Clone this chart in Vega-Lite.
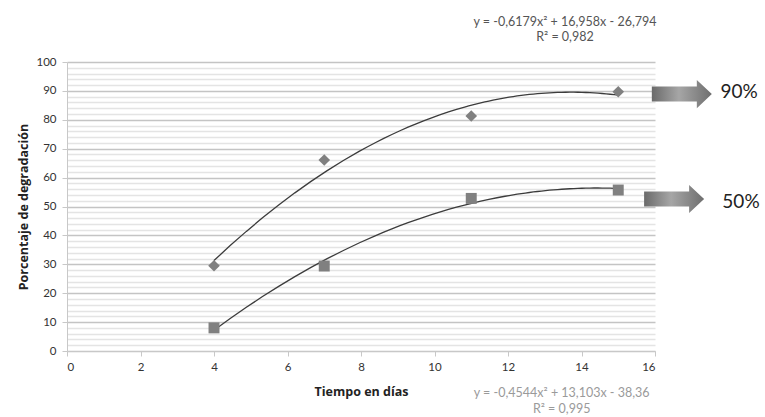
{
  "$schema": "https://vega.github.io/schema/vega-lite/v6.json",
  "width": 588,
  "height": 289,
  "autosize": "none",
  "padding": {"left": 67, "top": 62, "right": 110, "bottom": 66},
  "background": "white",
  "config": {
    "view": {"stroke": null},
    "font": "Lato",
    "axis": {"labelFont": "Lato", "titleFont": "Open Sans", "labelColor": "#333333", "titleColor": "#222222", "labelFontSize": 11.5, "titleFontSize": 12.5, "titleFontWeight": "bold", "domainColor": "#c8c8c8", "tickColor": "#c8c8c8"}
  },
  "datasets": {
    "puntos": [
      {"dias": 4, "porcentaje": 29.5, "serie": "90%"},
      {"dias": 7, "porcentaje": 66.1, "serie": "90%"},
      {"dias": 11, "porcentaje": 81.3, "serie": "90%"},
      {"dias": 15, "porcentaje": 89.7, "serie": "90%"},
      {"dias": 4, "porcentaje": 8.0, "serie": "50%"},
      {"dias": 7, "porcentaje": 29.4, "serie": "50%"},
      {"dias": 11, "porcentaje": 52.8, "serie": "50%"},
      {"dias": 15, "porcentaje": 55.7, "serie": "50%"}
    ],
    "ecuacion_sup": [
      {"dias": 13.55, "porcentaje": 113.9, "texto": "y = -0,6179x² + 16,958x - 26,794"},
      {"dias": 13.55, "porcentaje": 108.5, "texto": "R² = 0,982"}
    ],
    "ecuacion_inf": [
      {"dias": 13.46, "porcentaje": -14.4, "texto": "y = -0,4544x² + 13,103x - 38,36"},
      {"dias": 13.46, "porcentaje": -20.2, "texto": "R² = 0,995"}
    ],
    "flechas": [
      {"dias": 16.73, "porcentaje": 88.9, "etiqueta": "90%"},
      {"dias": 16.52, "porcentaje": 52.6, "etiqueta": "50%"}
    ],
    "etiquetas": [
      {"dias": 18.29, "porcentaje": 89.5, "etiqueta": "90%"},
      {"dias": 18.34, "porcentaje": 51.6, "etiqueta": "50%"}
    ]
  },
  "layer": [
    {
      "data": {"name": "puntos"},
      "transform": [{"regression": "porcentaje", "on": "dias", "groupby": ["serie"], "method": "poly", "order": 2, "extent": [4, 15]}],
      "mark": {"type": "line", "color": "#3c3c3c", "strokeWidth": 1.3},
      "encoding": {
        "x": {"field": "dias", "type": "quantitative"},
        "y": {"field": "porcentaje", "type": "quantitative"},
        "detail": {"field": "serie"}
      }
    },
    {
      "data": {"name": "puntos"},
      "mark": {"type": "point", "filled": true, "opacity": 1},
      "encoding": {
        "x": {
          "field": "dias", "type": "quantitative",
          "scale": {"domain": [0, 16], "nice": false},
          "axis": {"title": "Tiempo en días", "values": [0, 2, 4, 6, 8, 10, 12, 14, 16], "tickCount": 9, "grid": false, "tickSize": 5, "labelPadding": 5, "titlePadding": 13}
        },
        "y": {
          "field": "porcentaje", "type": "quantitative",
          "scale": {"domain": [0, 100], "nice": false},
          "axis": {
            "title": "Porcentaje de degradación",
            "values": [0,2,4,6,8,10,12,14,16,18,20,22,24,26,28,30,32,34,36,38,40,42,44,46,48,50,52,54,56,58,60,62,64,66,68,70,72,74,76,78,80,82,84,86,88,90,92,94,96,98,100],
            "tickCount": 51,
            "labelExpr": "datum.value % 10 === 0 ? datum.label : ''",
            "labelOverlap": false,
            "grid": true,
            "gridWidth": 1.5,
            "gridColor": {"condition": {"test": "datum.value % 10 === 0", "value": "#c4c4c4"}, "value": "#e4e4e4"},
            "tickOpacity": {"condition": {"test": "datum.value % 10 === 0", "value": 1}, "value": 0},
            "tickSize": 5,
            "labelPadding": 6,
            "titlePadding": 5
          }
        },
        "shape": {"field": "serie", "type": "nominal", "scale": {"domain": ["90%", "50%"], "range": ["diamond", "square"]}, "legend": null},
        "size": {"field": "serie", "type": "nominal", "scale": {"domain": ["90%", "50%"], "range": [135, 120]}, "legend": null},
        "color": {"value": "#808080"}
      }
    },
    {
      "data": {"name": "ecuacion_sup"},
      "mark": {"type": "text", "color": "#555555", "fontSize": 12.5, "font": "Lato", "baseline": "middle", "align": "center"},
      "encoding": {
        "x": {"field": "dias", "type": "quantitative"},
        "y": {"field": "porcentaje", "type": "quantitative"},
        "text": {"field": "texto"}
      }
    },
    {
      "data": {"name": "ecuacion_inf"},
      "mark": {"type": "text", "color": "#9a9a9a", "fontSize": 12.5, "font": "Lato", "baseline": "middle", "align": "center"},
      "encoding": {
        "x": {"field": "dias", "type": "quantitative"},
        "y": {"field": "porcentaje", "type": "quantitative"},
        "text": {"field": "texto"}
      }
    },
    {
      "data": {"name": "flechas"},
      "mark": {
        "type": "point", "filled": true, "opacity": 1, "size": 3600,
        "shape": "M-1,-0.25 L0.5,-0.25 L0.5,-0.47 L1,0 L0.5,0.47 L0.5,0.25 L-1,0.25 Z",
        "color": {"gradient": "linear", "x1": 0, "y1": 0, "x2": 1, "y2": 0, "stops": [{"offset": 0, "color": "#6a6a6a"}, {"offset": 0.45, "color": "#a6a6a6"}, {"offset": 1, "color": "#6e6e6e"}]}
      },
      "encoding": {
        "x": {"field": "dias", "type": "quantitative"},
        "y": {"field": "porcentaje", "type": "quantitative"}
      }
    },
    {
      "data": {"name": "etiquetas"},
      "mark": {"type": "text", "color": "#222222", "fontSize": 19, "font": "Lato", "baseline": "middle", "align": "center"},
      "encoding": {
        "x": {"field": "dias", "type": "quantitative"},
        "y": {"field": "porcentaje", "type": "quantitative"},
        "text": {"field": "etiqueta"}
      }
    }
  ]
}
